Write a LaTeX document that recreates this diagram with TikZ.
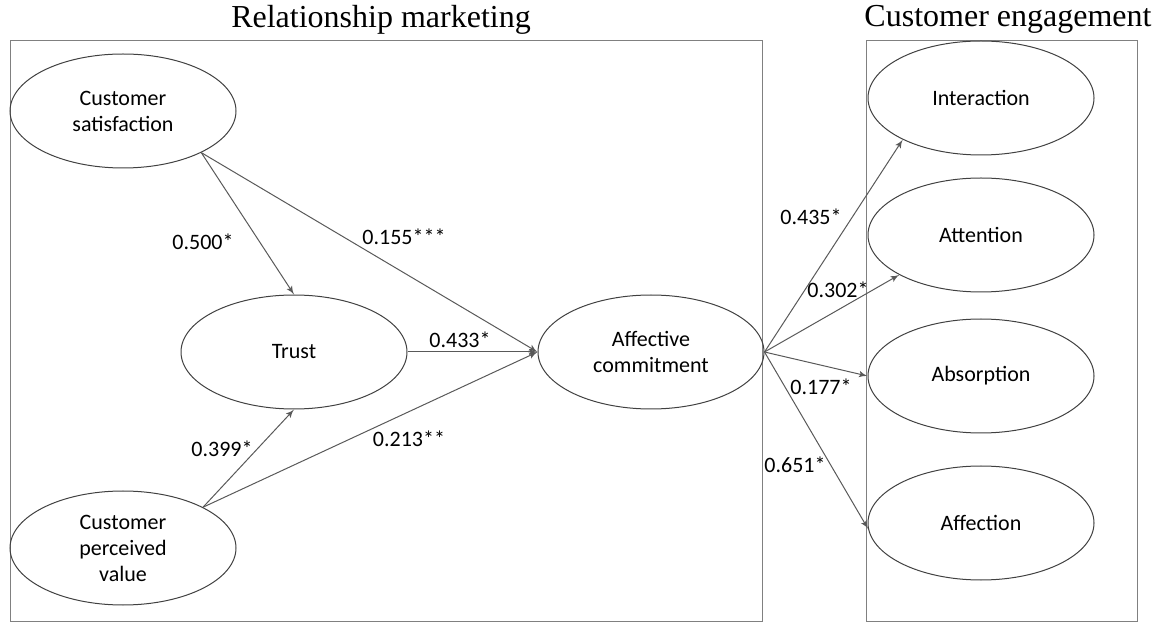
\documentclass[tikz,border=0pt]{standalone}
\usepackage{fontspec}
\setmainfont{Liberation Serif}
\newfontfamily\calfont{Carlito}
\usepackage{tikz}
\usetikzlibrary{arrows}
\usetikzlibrary{shapes.geometric}

\tikzset{
  construct/.style={ellipse, draw=black!75, line width=0.5pt, inner sep=0pt,
    minimum width=113pt, minimum height=57pt, align=center,
    font=\calfont\fontsize{11}{13}\selectfont},
  coef/.style={font=\calfont\fontsize{11}{13}\selectfont, inner sep=1pt},
  path/.style={->, draw=black!65, line width=0.5pt},
  frame/.style={draw=black!50, line width=0.5pt},
  heading/.style={font=\fontsize{16}{18}\selectfont, inner sep=0pt}
}

\begin{document}
\begin{tikzpicture}[>=latex', x=0.5pt, y=-0.5pt]
\useasboundingbox (0,0) rectangle (1162,630);

% group frames
\draw[frame] (10,41) rectangle (762,621);
\draw[frame] (866,41) rectangle (1137,621);
\node[heading] at (381,20) (rmtitle) {Relationship marketing};
\node[heading] at (1008,19) (cetitle) {Customer engagement};

% constructs
\node[construct] at (123,111) (CS) {Customer\\satisfaction};
\node[construct] at (294,352) (TR) {Trust};
\node[construct] at (123,548) (CPV) {Customer\\perceived\\value};
\node[construct] at (651,352) (AC) {Affective\\commitment};
\node[construct] at (981,98) (INT) {Interaction};
\node[construct] at (981,235) (ATT) {Attention};
\node[construct] at (981,376) (ABS) {Absorption};
\node[construct] at (981,523) (AFF) {Affection};

% paths
\draw[path] (CS.-28) to (TR.north);
\draw[path] (CS.-28) to (AC.west);
\draw[path] (TR.east) to (AC.west);
\draw[path] (CPV.27) to (TR.south);
\draw[path] (CPV.27) to (AC.west);

\draw[path] (AC.east) to (INT.208);
\draw[path] (AC.east) to (ATT.206);
\draw[path] (AC.east) to (ABS.west);
\draw[path] (AC.east) to (AFF.183);

% coefficients
\node[coef] at (203,242) (c1) {0.500*};
\node[coef] at (404,237) (c2) {0.155***};
\node[coef] at (460,340) (c3) {0.433*};
\node[coef] at (222,449) (c4) {0.399*};
\node[coef] at (409,439) (c5) {0.213**};
\node[coef] at (811,217) (c6) {0.435*};
\node[coef] at (838,290) (c7) {0.302*};
\node[coef] at (821,387) (c8) {0.177*};
\node[coef] at (795,465) (c9) {0.651*};
\end{tikzpicture}
\end{document}
